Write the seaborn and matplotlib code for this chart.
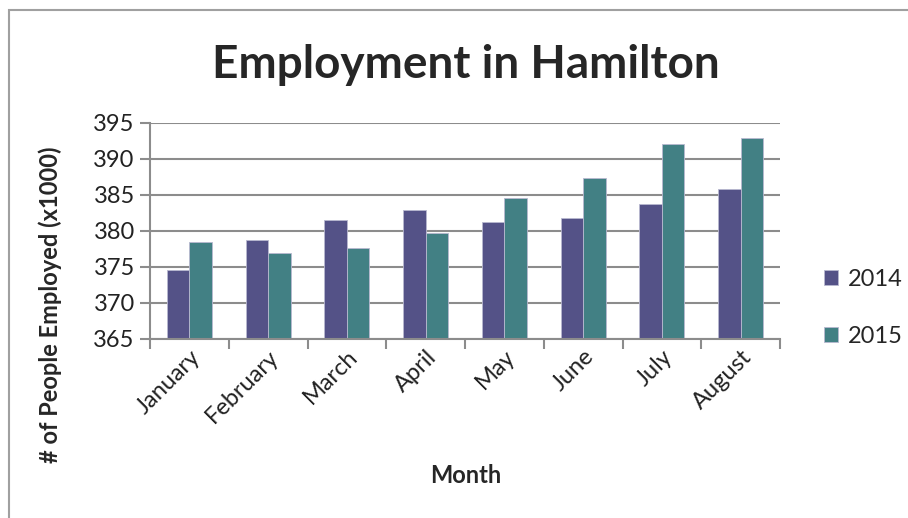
import matplotlib
matplotlib.use("Agg")
import matplotlib.pyplot as plt
import seaborn as sns
import pandas as pd
from matplotlib.patches import Rectangle
from matplotlib.ticker import FixedLocator, NullFormatter

months = ["January", "February", "March", "April", "May", "June", "July", "August"]
years = ["2014", "2015"]
emp_2014 = [374.6, 378.8, 381.5, 382.9, 381.3, 381.8, 383.8, 385.8]
emp_2015 = [378.5, 377.0, 377.7, 379.7, 384.6, 387.4, 392.1, 392.9]
yticks = [365, 370, 375, 380, 385, 390, 395]

df = pd.DataFrame({
    "Month": months * 2,
    "Year": [years[0]] * len(months) + [years[1]] * len(months),
    "Value": emp_2014 + emp_2015,
})

sns.set_theme(style="white")
plt.rcParams["font.family"] = ["Lato", "DejaVu Sans"]

fig = plt.figure(figsize=(9.08, 5.18), dpi=100)
ax = fig.add_axes([150/908, 1-339/518, 630/908, 216/518])

palette = {"2014": "#545287", "2015": "#428084"}
sns.barplot(data=df, x="Month", y="Value", hue="Year", palette=palette,
            width=0.57, gap=0, edgecolor="#b8b8d0", linewidth=0.6,
            saturation=1, ax=ax, legend=True)

ax.set_ylim(365, 395)
ax.set_xlim(-0.5, 7.5)
ax.set_yticks(yticks)
ax.set_yticklabels([str(v) for v in yticks], fontsize=17, color="#222222")
ax.yaxis.grid(True, color="#8c8c8c", linewidth=1.5)
ax.set_axisbelow(True)
for s in ["top", "right"]:
    ax.spines[s].set_visible(False)
for s in ["left", "bottom"]:
    ax.spines[s].set_color("#8c8c8c")
    ax.spines[s].set_linewidth(1.5)
ax.tick_params(axis="y", which="major", length=7, width=1.5, color="#8c8c8c",
               direction="out", left=True, pad=4)
ax.tick_params(axis="x", which="major", length=0, pad=5)
ax.xaxis.set_minor_locator(FixedLocator([i - 0.5 for i in range(len(months) + 1)]))
ax.xaxis.set_minor_formatter(NullFormatter())
ax.tick_params(axis="x", which="minor", length=7, width=1.5, color="#8c8c8c",
               direction="out", bottom=True)
ax.set_xticks(range(len(months)))
ax.set_xticklabels(months, rotation=45, ha="right", rotation_mode="anchor",
                   fontsize=17, color="#222222")

ax.set_xlabel("Month", fontsize=17, fontweight="bold")
ax.xaxis.set_label_coords((466 - 150) / 630, (339 - 464) / 216)
ax.set_ylabel("# of People Employed (x1000)", fontsize=17, fontweight="bold")
ax.yaxis.set_label_coords((62 - 150) / 630, (339 - 305) / 216)

fig.text(466/908, 1-65/518, "Employment in Hamilton", fontsize=33,
         fontweight="bold", ha="center", va="center")

leg = ax.legend(loc="center left", bbox_to_anchor=(1.07, (339 - 308) / 216), frameon=False,
                fontsize=17, handlelength=0.6, handleheight=0.6,
                labelspacing=1.55, handletextpad=0.4, title=None,
                borderaxespad=0, borderpad=0)

fig.patches.append(Rectangle((9/908, -0.05), 1.2, 1.05 - 10/518, transform=fig.transFigure,
                             fill=False, edgecolor="#a0a0a0", linewidth=1.5, zorder=-1))

fig.savefig("out.png", dpi=100)
